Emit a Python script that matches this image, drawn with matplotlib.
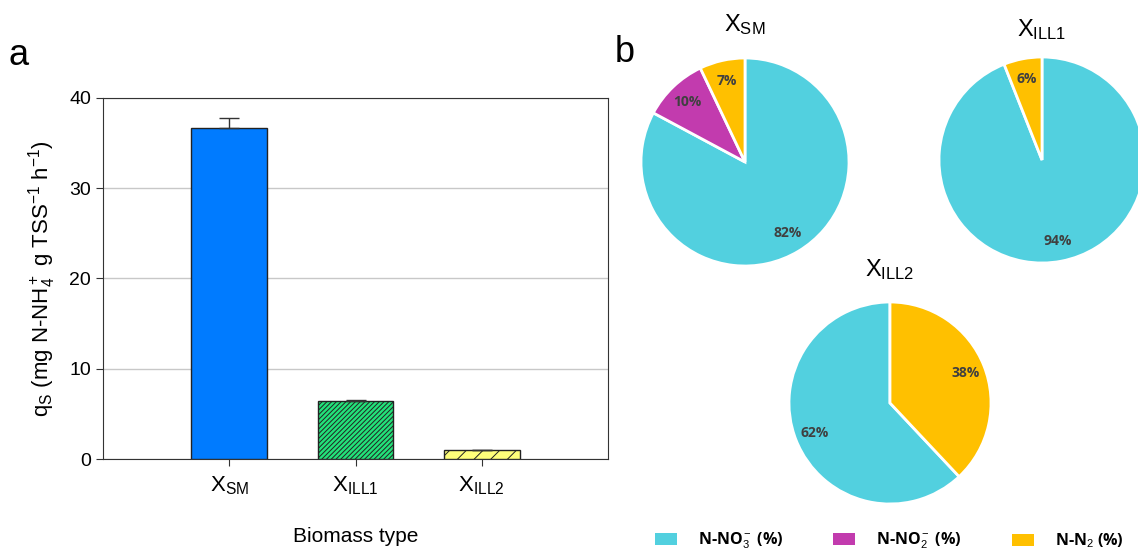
import matplotlib
matplotlib.use("Agg")
import matplotlib.pyplot as plt
from matplotlib.patches import Patch

plt.rcParams['font.family'] = ['Liberation Sans', 'DejaVu Sans']
plt.rcParams['mathtext.fontset'] = 'custom'
plt.rcParams['mathtext.rm'] = 'Liberation Sans'
plt.rcParams['mathtext.it'] = 'Liberation Sans'
plt.rcParams['hatch.linewidth'] = 0.7

# --- panel a data ---
biomass = [r'X$_\mathrm{SM}$', r'X$_\mathrm{ILL1}$', r'X$_\mathrm{ILL2}$']
qs = [36.7, 6.45, 1.0]
qs_err = [1.1, 0.1, 0.05]
bar_colors = ['#007BFF', '#22E27A', '#FFFF7A']
bar_hatch = ['', '/' * 7, '//']

# --- panel b data ---
pie_titles = [r'X$_\mathrm{SM}$', r'X$_\mathrm{ILL1}$', r'X$_\mathrm{ILL2}$']
pie_labels = ['N-NO$_3^-$ (%)', 'N-NO$_2^-$ (%)', 'N-N$_2$ (%)']
pie_colors = ['#52D0DF', '#C23BAE', '#FFC000']
xsm = [82, 10, 7]
xill1 = [94, 0, 6]
xill2 = [62, 0, 38]

fig = plt.figure(figsize=(11.38, 5.53), dpi=100)
W, H = 1138, 553

# ---------------- a: bar chart ----------------
ax = fig.add_axes([103 / W, 1 - 459 / H, 505 / W, 361 / H])
x = range(len(qs))
ax.bar(x, qs, width=0.6, color=bar_colors, edgecolor='#222222',
       linewidth=1, hatch=bar_hatch, zorder=3)
ax.errorbar(x, qs, yerr=[[0, 0, 0], qs_err], fmt='none', ecolor='#333333',
            elinewidth=1, capsize=7, capthick=1, zorder=4)
ax.set_xlim(-1, 3)
ax.set_ylim(0, 40)
ax.set_yticks([0, 10, 20, 30, 40])
ax.set_xticks(list(x))
ax.set_xticklabels(biomass, fontsize=16)
ax.tick_params(axis='y', labelsize=14, length=5, color='#333333')
ax.tick_params(axis='x', length=5, pad=6, color='#333333')
ax.yaxis.grid(True, color='#C8C8C8', linewidth=1, zorder=0)
for s in ax.spines.values():
    s.set_color('#333333')
ax.set_ylabel(r'q$_\mathrm{S}$ (mg N-NH$_4^+$ g TSS$^{-1}$ h$^{-1}$)',
              fontsize=16, labelpad=8)
ax.set_xlabel('Biomass type', fontsize=15, labelpad=22)
fig.text(8 / W, 1 - 55 / H, 'a', fontsize=26, va='center', ha='left')
fig.text(615 / W, 1 - 52 / H, 'b', fontsize=26, va='center', ha='left')

# ---------------- b: pies ----------------
def draw_pie(cx, cy, r, vals, title, ty, counterclock, startangle):
    lim = 1.03
    ax_p = fig.add_axes([(cx - r * lim) / W, 1 - (cy + r * lim) / H,
                         2 * r * lim / W, 2 * r * lim / H])
    v = [val for val in vals if val > 0]
    c = [pie_colors[i] for i, val in enumerate(vals) if val > 0]
    labs = ['%d%%' % val for val in v]
    wedges, texts = ax_p.pie(v, colors=c, labels=labs, labeldistance=0.8,
                             counterclock=counterclock, startangle=startangle,
                             wedgeprops=dict(edgecolor='white', linewidth=2),
                             textprops=dict(fontsize=10, fontweight='bold',
                                            color='#404040', family='Open Sans'))
    for t in texts:
        t.set_ha('center')
        t.set_va('center')
    ax_p.set_xlim(-lim, lim)
    ax_p.set_ylim(-lim, lim)
    ax_p.set_aspect('equal')
    ax_p.axis('off')
    fig.text(cx / W, 1 - ty / H, title, fontsize=17, ha='center', va='center')

draw_pie(745, 162, 104, xsm, pie_titles[0], 25, False, 90)
draw_pie(1042, 160, 103, xill1, pie_titles[1], 30, False, 90)
draw_pie(890, 403, 101, xill2, pie_titles[2], 270, True, 90)

# legend: one entry per series, spaced like the reference
legend_x = [655, 833, 1012]
for col, lab, lx in zip(pie_colors, pie_labels, legend_x):
    fig.legend([Patch(facecolor=col, edgecolor='none')], [lab], loc='center left',
               bbox_to_anchor=(lx / W, 1 - 541 / H), frameon=False,
               handlelength=1.4, handleheight=0.75, handletextpad=1.3,
               borderaxespad=0, borderpad=0,
               prop=dict(size=11.5, weight='bold', family='Open Sans'))

fig.savefig('out.png', dpi=100)
